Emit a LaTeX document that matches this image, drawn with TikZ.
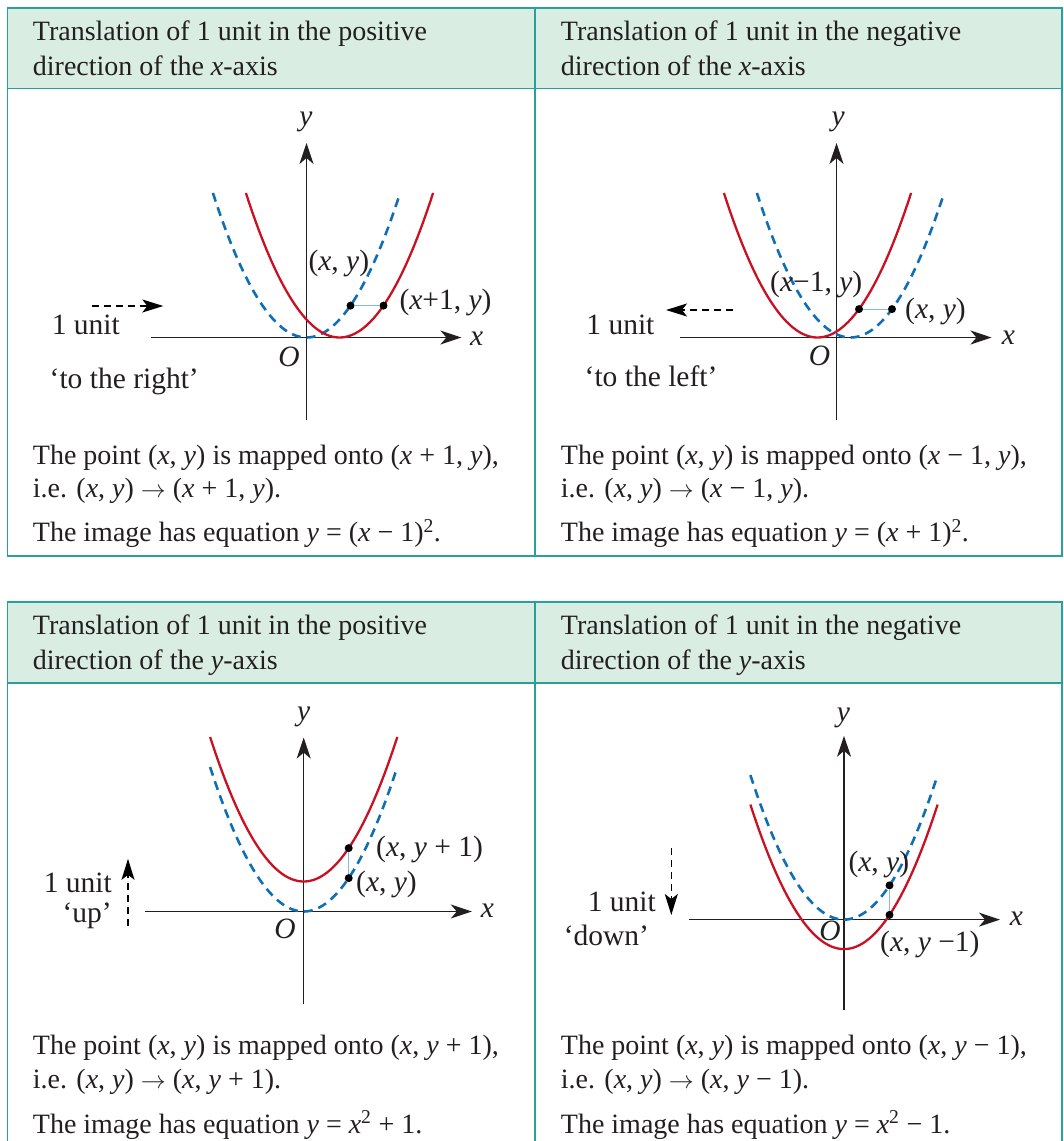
\documentclass[tikz,border=0pt]{standalone}
\usepackage{fontspec}
\setmainfont{Liberation Serif}
\usepackage{tikz}
\usetikzlibrary{arrows.meta, positioning}
\definecolor{framegreen}{RGB}{40,160,158}
\definecolor{headgreen}{RGB}{217,237,226}
\definecolor{imagered}{RGB}{200,18,36}
\definecolor{objectblue}{RGB}{16,110,180}
\definecolor{linkblue}{RGB}{130,185,230}
\definecolor{inkgray}{RGB}{35,31,32}
\tikzset{>=Stealth}
\tikzset{font=\fontsize{28}{34}\selectfont}
\tikzset{
  panelframe/.style={draw=framegreen, line width=1.5pt},
  headband/.style={fill=headgreen},
  txt/.style={anchor=base west, inner sep=0pt, text=inkgray},
  lbl/.style={inner sep=0pt, text=inkgray, font=\fontsize{29.5}{34}\selectfont},
  axisline/.style={draw=inkgray, line width=1.3pt,
    -{Stealth[length=21pt, width=14pt, inset=6pt]}},
  imagecurve/.style={draw=imagered, line width=2.3pt},
  objectcurve/.style={draw=objectblue, line width=2.6pt, dash pattern=on 9pt off 6pt},
  linkline/.style={draw=linkblue, line width=1.1pt},
  ptdot/.style={circle, fill=black, inner sep=0pt, minimum size=8pt},
  shiftarrow/.style={draw=black, line width=1.2pt, dash pattern=on 7pt off 5pt,
    -{Stealth[length=21pt, width=13pt, inset=5pt]}},
}
\newcommand{\ital}[1]{\textit{#1}}
\newcommand{\mapsarrow}{$\rightarrow$}
% parabola with vertex (#2,#3)
\newcommand{\drawparab}[3]{%
  \draw[#1] plot[domain=-93.6:93.6, samples=61] ({#2+\x},{#3-0.0165*\x*\x});}

\begin{document}
\begin{tikzpicture}[x=1pt, y=-1pt]
  \useasboundingbox (0,0) rectangle (1064,1141);

  % tables
  \fill[headband] (7.6,7.9) rectangle (1062,88.5);
  \draw[panelframe] (7.6,7.9) rectangle (1062,556);
  \draw[panelframe] (7.6,88.5) -- (1062,88.5);
  \draw[panelframe] (535,7.9) -- (535,556);
  \fill[headband] (7.6,602) rectangle (1062,683);
  \draw[panelframe] (7.6,602) rectangle (1062,1150);
  \draw[panelframe] (7.6,683) -- (1062,683);
  \draw[panelframe] (535,602) -- (535,1150);

  % headings
  \node[txt] (tlh1) at (32.7,40) {Translation of 1 unit in the positive};
  \node[txt] (tlh2) at (32.7,75) {direction of the \ital{x}-axis};
  \node[txt] (trh1) at (560.7,40) {Translation of 1 unit in the negative};
  \node[txt] (trh2) at (560.7,75) {direction of the \ital{x}-axis};
  \node[txt] (blh1) at (32.7,634) {Translation of 1 unit in the positive};
  \node[txt] (blh2) at (32.7,669) {direction of the \ital{y}-axis};
  \node[txt] (brh1) at (560.7,634) {Translation of 1 unit in the negative};
  \node[txt] (brh2) at (560.7,669) {direction of the \ital{y}-axis};

  % captions
  \node[txt] (tlc1) at (32.7,464.3) {The point (\ital{x}, \ital{y}) is mapped onto (\ital{x} + 1, \ital{y}),};
  \node[txt] (tlc2) at (32.7,497.5) {i.e. (\ital{x}, \ital{y}) \mapsarrow{} (\ital{x} + 1, \ital{y}).};
  \node[txt] (tlc3) at (32.7,541.8) {The image has equation \ital{y} = (\ital{x} − 1)\textsuperscript{2}.};
  \node[txt] (trc1) at (560.7,464.3) {The point (\ital{x}, \ital{y}) is mapped onto (\ital{x} − 1, \ital{y}),};
  \node[txt] (trc2) at (560.7,497.5) {i.e. (\ital{x}, \ital{y}) \mapsarrow{} (\ital{x} − 1, \ital{y}).};
  \node[txt] (trc3) at (560.7,541.8) {The image has equation \ital{y} = (\ital{x} + 1)\textsuperscript{2}.};
  \node[txt] (blc1) at (32.7,1054.5) {The point (\ital{x}, \ital{y}) is mapped onto (\ital{x}, \ital{y} + 1),};
  \node[txt] (blc2) at (32.7,1088) {i.e. (\ital{x}, \ital{y}) \mapsarrow{} (\ital{x}, \ital{y} + 1).};
  \node[txt] (blc3) at (32.7,1133) {The image has equation \ital{y} = \ital{x}\textsuperscript{2} + 1.};
  \node[txt] (brc1) at (560.7,1054.5) {The point (\ital{x}, \ital{y}) is mapped onto (\ital{x}, \ital{y} − 1),};
  \node[txt] (brc2) at (560.7,1088) {i.e. (\ital{x}, \ital{y}) \mapsarrow{} (\ital{x}, \ital{y} − 1).};
  \node[txt] (brc3) at (560.7,1133) {The image has equation \ital{y} = \ital{x}\textsuperscript{2} − 1.};

  % top left: 1 unit to the right
  \coordinate (tlxa) at (150.5,337.5);
  \coordinate (tlxb) at (461.4,337.5);
  \coordinate (tlya) at (306.5,420);
  \coordinate (tlyb) at (306.5,143);
  \draw[axisline] (tlxa) -- (tlxb);
  \draw[axisline] (tlya) -- (tlyb);
  \node[lbl, anchor=base] (tlx) at (476.7,345) {\ital{x}};
  \node[lbl, anchor=base] (tly) at (306,125) {\ital{y}};
  \node[lbl, anchor=base] (tlo) at (289,366) {\ital{O}};
  \drawparab{objectcurve}{306.5}{337.5}
  \drawparab{imagecurve}{339.5}{337.5}
  \node[ptdot] (tlp) at (350.5,305.6) {};
  \node[ptdot] (tlq) at (383.5,305.6) {};
  \draw[linkline] (tlp) -- (tlq);
  \node[lbl, anchor=base west] (tlpl) at (308.3,270) {(\ital{x}, \ital{y})};
  \node[lbl, anchor=base west] (tlql) at (399.3,309.3) {(\ital{x}+1, \ital{y})};
  \coordinate (tlsa) at (91.7,306);
  \coordinate (tlsb) at (163.3,306);
  \draw[shiftarrow] (tlsa) -- (tlsb);
  \node[lbl, anchor=base west] (tlu) at (51.6,334) {1 unit};
  \node[lbl, anchor=base west] (tlw) at (49.5,388) {‘to the right’};

  % top right: 1 unit to the left
  \coordinate (trxa) at (680,337.5);
  \coordinate (trxb) at (991.5,337.5);
  \coordinate (trya) at (836.5,420);
  \coordinate (tryb) at (836.5,143);
  \draw[axisline] (trxa) -- (trxb);
  \draw[axisline] (trya) -- (tryb);
  \node[lbl, anchor=base] (trx) at (1008.5,344.6) {\ital{x}};
  \node[lbl, anchor=base] (try) at (838.2,125) {\ital{y}};
  \node[lbl, anchor=base] (tro) at (819.5,365) {\ital{O}};
  \drawparab{objectcurve}{850.5}{337.5}
  \drawparab{imagecurve}{817.5}{337.5}
  \node[ptdot] (trq) at (859,309.1) {};
  \node[ptdot] (trp) at (892,309.1) {};
  \draw[linkline] (trq) -- (trp);
  \node[lbl, anchor=base west] (trql) at (770,291.7) {(\ital{x}−1, \ital{y})};
  \node[lbl, anchor=base west] (trpl) at (905,318.3) {(\ital{x}, \ital{y})};
  \coordinate (trsa) at (733,310);
  \coordinate (trsb) at (666,310);
  \draw[shiftarrow] (trsa) -- (trsb);
  \node[lbl, anchor=base west] (tru) at (586.2,334) {1 unit};
  \node[lbl, anchor=base west] (trw) at (584.5,386.8) {‘to the left’};

  % bottom left: 1 unit up
  \coordinate (blxa) at (145.3,911.5);
  \coordinate (blxb) at (471.8,911.5);
  \coordinate (blya) at (303.7,1004);
  \coordinate (blyb) at (303.7,737.6);
  \draw[axisline] (blxa) -- (blxb);
  \draw[axisline] (blya) -- (blyb);
  \node[lbl, anchor=base] (blx) at (487.3,917.5) {\ital{x}};
  \node[lbl, anchor=base] (bly) at (303.7,720) {\ital{y}};
  \node[lbl, anchor=base] (blo) at (285,938) {\ital{O}};
  \drawparab{objectcurve}{303.7}{911.5}
  \drawparab{imagecurve}{303.7}{881.5}
  \node[ptdot] (blq) at (348.7,848.1) {};
  \node[ptdot] (blp) at (348.7,878.1) {};
  \draw[linkline] (blq) -- (blp);
  \node[lbl, anchor=base west] (blql) at (376,856.7) {(\ital{x}, \ital{y} + 1)};
  \node[lbl, anchor=base west] (blpl) at (356,891.7) {(\ital{x}, \ital{y})};
  \coordinate (blsa) at (128,925.6);
  \coordinate (blsb) at (128,858.8);
  \draw[shiftarrow] (blsa) -- (blsb);
  \node[lbl, anchor=base east] (blu) at (112,892) {1 unit};
  \node[lbl, anchor=base east] (blw) at (112,922) {‘up’};

  % bottom right: 1 unit down
  \coordinate (brxa) at (689,919.6);
  \coordinate (brxb) at (1000,919.6);
  \coordinate (brya) at (844,1010);
  \coordinate (bryb) at (844,735.8);
  \draw[axisline] (brxa) -- (brxb);
  \draw[axisline] (brya) -- (bryb);
  \node[lbl, anchor=base] (brx) at (1016.4,925.6) {\ital{x}};
  \node[lbl, anchor=base] (bry) at (843.4,721.8) {\ital{y}};
  \node[lbl, anchor=base] (bro) at (830,940.7) {\ital{O}};
  \drawparab{objectcurve}{844}{919.6}
  \drawparab{imagecurve}{844}{949.1}
  \node[ptdot] (brp) at (889.5,885.4) {};
  \node[ptdot] (brq) at (889.5,914.9) {};
  \draw[linkline] (brp) -- (brq);
  \node[lbl, anchor=base west] (brpl) at (848.3,871.7) {(\ital{x}, \ital{y})};
  \node[lbl, anchor=base west] (brql) at (880,951.7) {(\ital{x}, \ital{y} −1)};
  \coordinate (brsa) at (671.3,848.3);
  \coordinate (brsb) at (671.3,915);
  \draw[shiftarrow] (brsa) -- (brsb);
  \node[lbl, anchor=base east] (bru) at (656,911.5) {1 unit};
  \node[lbl, anchor=base east] (brw) at (649.2,945.6) {‘down’};
\end{tikzpicture}
\end{document}
